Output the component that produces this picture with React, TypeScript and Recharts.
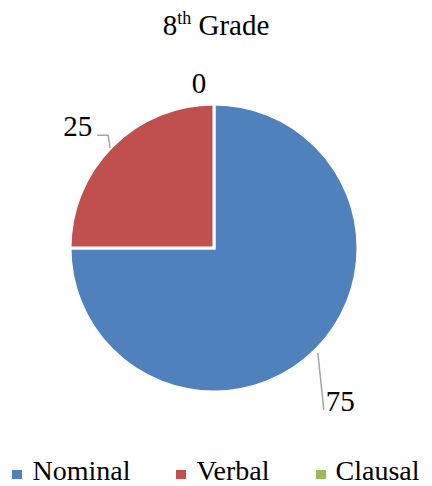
import { PieChart, Pie, Cell, Legend } from "recharts";

const categories = ["Nominal", "Verbal", "Clausal"];
const values = [75, 25, 0];
const colors = ["#4F81BD", "#C0504D", "#9BBB59"];

const pieData = categories.map((name, i) => ({ name, value: values[i] }));

const RADIAN = Math.PI / 180;
const FONT = '"Liberation Serif", Tinos, "Times New Roman", Times, "DejaVu Serif", serif';

// leader line / text offsets relative to the slice's outer edge point
const labelLayout = [
  { line: [[2, 3], [8, 60]], text: [10, 61], anchor: "start" },
  { line: [[-2, 2], [-4, -11], [-15, -11]], text: [-20, -10], anchor: "end" },
  { line: [], text: [-15, -11], anchor: "middle" },
];

const edgePoint = (cx: number, cy: number, r: number, midAngle: number) => ({
  x: cx + r * Math.cos(-midAngle * RADIAN),
  y: cy + r * Math.sin(-midAngle * RADIAN),
});

const renderLabel = (props: any) => {
  const { cx, cy, midAngle, outerRadius, value, index } = props;
  const p = edgePoint(cx, cy, outerRadius, midAngle);
  const lay = labelLayout[index];
  const pts = lay.line.map(([dx, dy]) => `${p.x + dx},${p.y + dy}`).join(" ");
  return (
    <g key={`lbl-${index}`}>
      {lay.line.length > 0 && (
        <polyline points={pts} fill="none" stroke="#A6A6A6" strokeWidth={1.5} />
      )}
      <text
        x={p.x + lay.text[0]}
        y={p.y + lay.text[1]}
        textAnchor={lay.anchor as any}
        fill="#000"
        fontSize={29}
        style={{ fontFamily: FONT }}
      >
        {value}
      </text>
    </g>
  );
};

const renderLegend = () => (
  <div style={{ display: "flex", justifyContent: "center", fontFamily: FONT, fontSize: 28, color: "#000", lineHeight: "30px" }}>
    {categories.map((c, i) => (
      <div key={c} style={{ display: "flex", alignItems: "center", marginRight: i < categories.length - 1 ? 46 : 0 }}>
        <span style={{ display: "inline-block", width: 10, height: 9, background: colors[i], marginRight: 10, marginTop: 6 }} />
        <span>{c}</span>
      </div>
    ))}
  </div>
);

export default function App() {
  return (
    <div style={{ position: "absolute", left: 0, top: 0, width: 432, height: 486, background: "#fff" }}>
      <div
        style={{
          position: "absolute",
          left: 0,
          top: 6,
          width: 432,
          textAlign: "center",
          fontFamily: FONT,
          fontSize: 29,
          color: "#000",
          lineHeight: "38px",
        }}
      >
        8<sup style={{ fontSize: 18, verticalAlign: "top", lineHeight: "24px" }}>th</sup> Grade
      </div>
      <PieChart
        width={432}
        height={486}
        margin={{ top: 0, right: 0, bottom: 0, left: 0 }}
        style={{ position: "absolute", left: 0, top: 0 }}
      >
        <Pie
          data={pieData}
          dataKey="value"
          nameKey="name"
          cx={214}
          cy={248}
          outerRadius={144}
          startAngle={90}
          endAngle={-270}
          stroke="#fff"
          strokeWidth={3}
          label={renderLabel}
          labelLine={false}
          isAnimationActive={false}
        >
          {pieData.map((d, i) => (
            <Cell key={d.name} fill={colors[i]} />
          ))}
        </Pie>
        <Legend content={renderLegend} wrapperStyle={{ top: 456, left: 0, width: 432 }} />
      </PieChart>
    </div>
  );
}
